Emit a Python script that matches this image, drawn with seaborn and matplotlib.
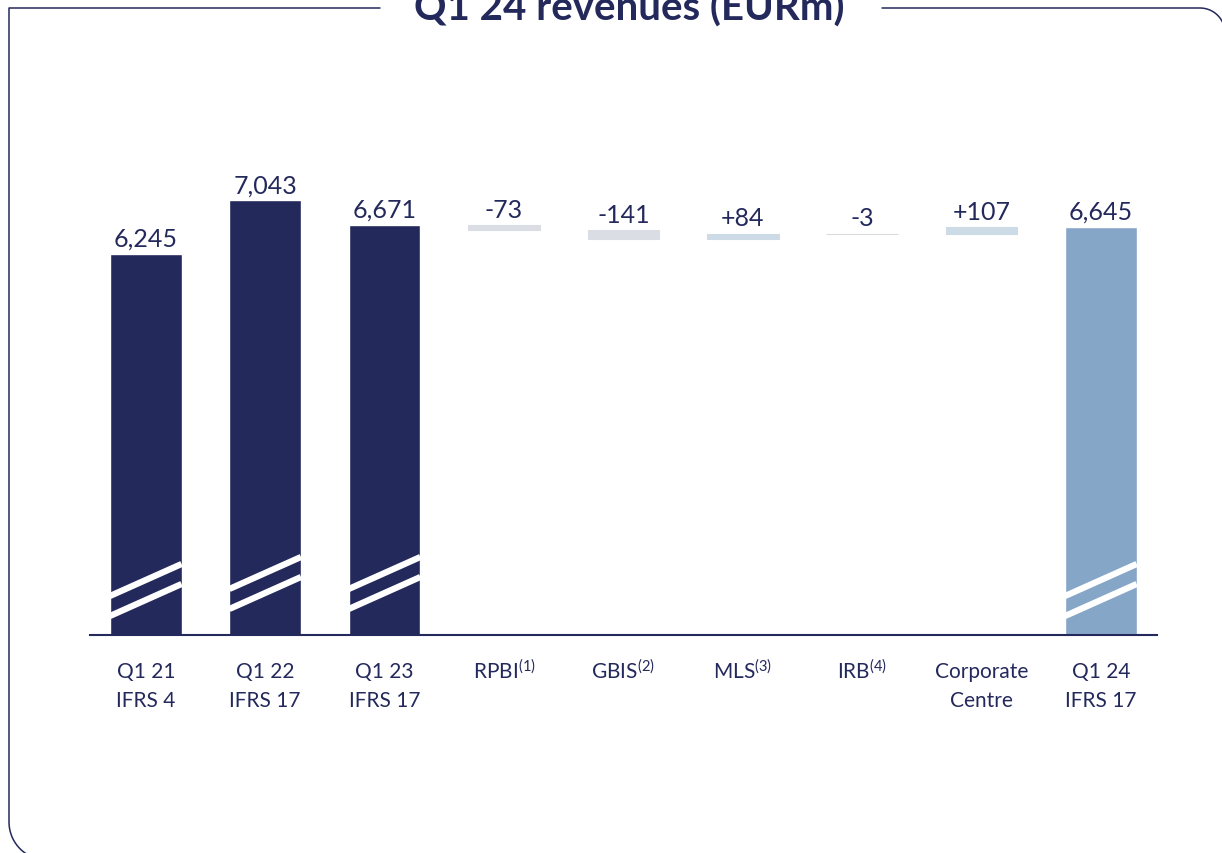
import numpy as np
import pandas as pd
import matplotlib
matplotlib.use("Agg")
import matplotlib.pyplot as plt
import matplotlib.transforms as mtransforms
from matplotlib.lines import Line2D
import seaborn as sns

# ---- data ----
categories = ["Q1 21\nIFRS 4", "Q1 22\nIFRS 17", "Q1 23\nIFRS 17",
              "RPBI$^{(1)}$", "GBIS$^{(2)}$", "MLS$^{(3)}$", "IRB$^{(4)}$",
              "Corporate\nCentre", "Q1 24\nIFRS 17"]
totals = ["Q1 21\nIFRS 4", "Q1 22\nIFRS 17", "Q1 23\nIFRS 17", "Q1 24\nIFRS 17"]
total_values = [6245, 7043, 6671, 6645]
bridge = ["RPBI$^{(1)}$", "GBIS$^{(2)}$", "MLS$^{(3)}$", "IRB$^{(4)}$", "Corporate\nCentre"]
bridge_values = [-73, -141, 84, -3, 107]
bridge_start = 6671  # Q1 23 total, where the bridge starts

NAVY = "#24295c"
LIGHT = "#86a6c8"
NEG = "#dadde4"
POS = "#cddbe7"
FLAT = "#dcdcdc"

W, H = 1222, 854
sns.set_style("white")
plt.rcParams['font.family'] = ['Lato', 'DejaVu Sans']
plt.rcParams['mathtext.fontset'] = 'custom'
plt.rcParams['mathtext.rm'] = 'Lato'
plt.rcParams['mathtext.it'] = 'Lato:italic'
plt.rcParams['mathtext.bf'] = 'Lato:bold'

fig = plt.figure(figsize=(W / 100, H / 100), dpi=100)
ax_h_px = 486
ax = fig.add_axes([90 / W, (H - 636) / H, 1067 / W, ax_h_px / H])

df = pd.DataFrame({"cat": totals, "value": total_values})
palette = {c: NAVY for c in totals}
palette[totals[-1]] = LIGHT
sns.barplot(data=df, x="cat", y="value", order=categories, hue="cat",
            palette=palette, width=0.6, legend=False, saturation=1, ax=ax)

# floating bridge bars
bottoms = []
level = bridge_start
for v in bridge_values:
    bottoms.append(level)
    level += v
xpos = [categories.index(c) for c in bridge]
bcolors = [FLAT if abs(v) < 10 else (POS if v > 0 else NEG) for v in bridge_values]
ax.bar(xpos, bridge_values, bottom=bottoms, width=0.6, color=bcolors,
       edgecolor=bcolors, linewidth=0.8)

ax.set_xlim(-0.467, len(categories) - 1 + 0.47)
ax.set_ylim(510, 510 + ax_h_px / 0.06652)

# value labels
for c, v in zip(totals, total_values):
    ax.annotate(f"{v:,}", (categories.index(c), v), xytext=(0, 6),
                textcoords="offset points", ha="center", va="baseline",
                fontsize=18, color=NAVY)
for x, b, v in zip(xpos, bottoms, bridge_values):
    ax.annotate(f"{v:+d}", (x, max(b, b + v)), xytext=(0, 6),
                textcoords="offset points", ha="center", va="baseline",
                fontsize=18, color=NAVY)

# axis-break marks on the total bars
trans = mtransforms.blended_transform_factory(ax.transData, ax.transAxes)
break_low = [19, 26, 26, 19]
for c, low in zip(totals, break_low):
    x = categories.index(c)
    for lo in (low, low + 20):
        ax.plot([x - 0.3, x + 0.3], [lo / ax_h_px, (lo + 32) / ax_h_px],
                color="white", lw=4.5, solid_capstyle="butt", transform=trans)

sns.despine(ax=ax, left=True)
ax.spines["bottom"].set_color(NAVY)
ax.spines["bottom"].set_linewidth(1.5)
ax.set_yticks([])
ax.set_xlabel("")
ax.set_ylabel("")
ax.tick_params(axis="x", length=0, pad=19, labelsize=15, labelcolor=NAVY)
for lab in ax.get_xticklabels():
    lab.set_linespacing(1.55)
    if "$" in lab.get_text():
        # superscript makes the box taller; lift back onto the common baseline
        lab.set_transform(lab.get_transform() +
                          mtransforms.ScaledTranslation(0, 3 / 100, fig.dpi_scale_trans))

# slide frame with a gap for the title
def px(pts):
    pts = np.asarray(pts, dtype=float)
    return pts[:, 0] / W, 1 - pts[:, 1] / H

r1 = 38
t = np.linspace(np.pi, np.pi / 2, 20)
bl = np.c_[9 + r1 + r1 * np.cos(t), 861 - r1 + r1 * np.sin(t)]
left_part = np.vstack([[380, 9], [9, 9], [9, 861 - r1], bl[1:]])
r2 = 25
t = np.linspace(np.pi / 2, 0, 20)
tr = np.c_[1225 - r2 + r2 * np.cos(t), 9 + r2 - r2 * np.sin(t)]
right_part = np.vstack([[882, 9], tr, [1225, 860]])
for part in (left_part, right_part):
    xs, ys = px(part)
    fig.add_artist(Line2D(xs, ys, color=NAVY, lw=1.1, transform=fig.transFigure))

fig.text(629 / W, 1 - 21 / H, "Q1 24 revenues (EURm)", ha="center", va="baseline",
         fontsize=29, fontweight="bold", color=NAVY)

fig.savefig("out.png", dpi=100)
